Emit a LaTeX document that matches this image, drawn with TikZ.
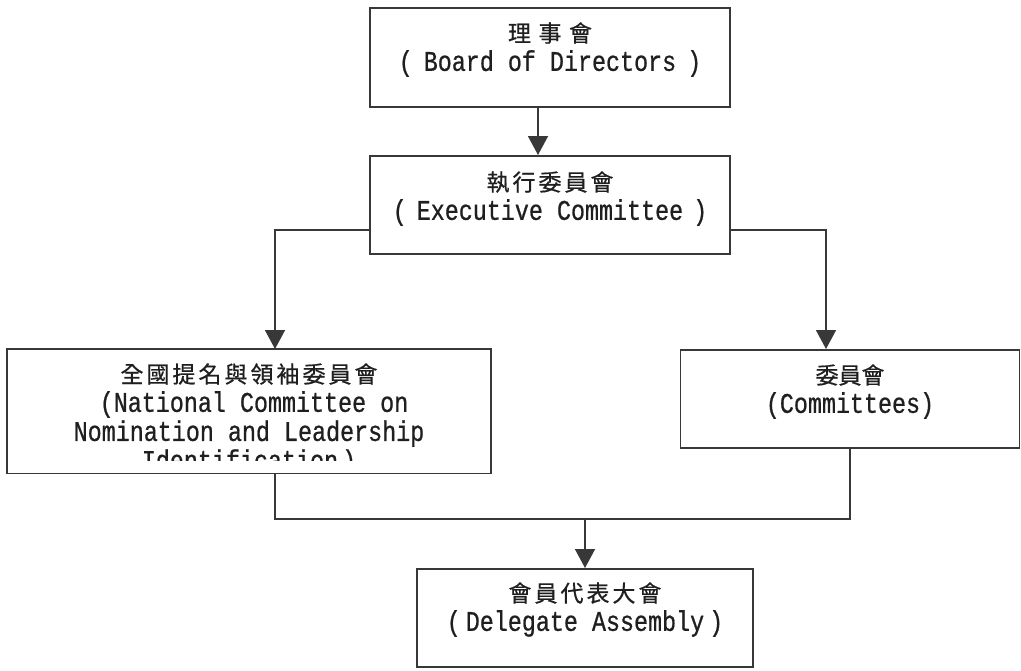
\documentclass[tikz,border=0pt]{standalone}
\usepackage{fontspec}
\usetikzlibrary{arrows.meta}
\newfontfamily\lat[FakeStretch=0.82,FakeBold=0.7]{Liberation Mono}
\newfontfamily\cjk[FakeBold=0.6]{Noto Sans CJK TC}
\makeatletter
\newcommand{\zh}[2][3pt]{{\cjk\fontsize{23pt}{28pt}\selectfont
  \def\zh@g{}\@tfor\zh@c:=#2\do{\zh@g\zh@c\def\zh@g{\hspace{#1}}}}}
\makeatother
\newcommand{\lpar}[1][0pt]{(\hspace{#1}}
\newcommand{\rpar}[1][0pt]{\hspace{#1})}
\colorlet{ink}{black!78}
\tikzset{
  box/.style={draw=ink, line width=1.6pt, rectangle, inner sep=0pt, anchor=north,
    text=black!88, font=\lat\fontsize{28.5pt}{28pt}\selectfont},
  ln/.style={draw=ink, line width=1.6pt},
  arr/.style={ln, -{Triangle[width=20pt,length=19pt]}},
}
\begin{document}
\begin{tikzpicture}[x=1pt,y=1pt]
\useasboundingbox (0,0) rectangle (1021,-670);
\node[box, minimum width=360pt, text height=34pt, text depth=65pt] (b1) at (550,-7)
  {\begin{tabular}[t]{@{}c@{}}\zh[7.5pt]{理事會}\\\lpar[11pt]Board of Directors\rpar[11pt]\end{tabular}};
\node[box, minimum width=360pt, text height=35pt, text depth=63pt] (b2) at (550,-155)
  {\begin{tabular}[t]{@{}c@{}}\zh{執行委員會}\\\lpar[10pt]Executive Committee\rpar[10pt]\end{tabular}};
\begin{scope}
\clip (0,0) rectangle (1021,-460);
\node[box, draw=none, minimum width=482pt, text height=33pt, text depth=90pt] (b3) at (249,-349)
  {\begin{tabular}[t]{@{}c@{}}\zh{全國提名與領袖委員會}\hspace{19pt}\\\hspace{10pt}\lpar National Committee on\\Nomination and Leadership\\Identification\rpar[4pt]\hspace{16pt}\end{tabular}};
\end{scope}
\draw[ln] (b3.south west) rectangle (b3.north east);
\node[box, minimum width=339pt, text height=34pt, text depth=64pt] (b4) at (850,-349)
  {\begin{tabular}[t]{@{}c@{}}\zh[0pt]{委員會}\\\lpar Committees\rpar\end{tabular}};
\node[box, minimum width=336pt, text height=33pt, text depth=65pt] (b5) at (585,-568)
  {\begin{tabular}[t]{@{}c@{}}\zh{會員代表大會}\\\lpar[5pt]Delegate Assembly\rpar[5pt]\end{tabular}};
\coordinate (j) at (585,-519);
\draw[arr] ([xshift=-12pt]b1.south) -- ([xshift=-12pt]b2.north);
\draw[arr] ([yshift=-25pt]b2.west) -| ([xshift=26pt]b3.north);
\draw[arr] ([yshift=-25pt]b2.east) -| ([xshift=-24pt]b4.north);
\draw[ln] ([xshift=26pt]b3.south) |- (j);
\draw[ln] (b4.south) |- (j);
\draw[arr] (j) -- (b5.north);
\end{tikzpicture}
\end{document}
